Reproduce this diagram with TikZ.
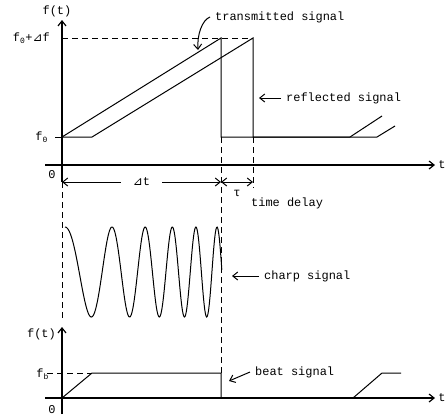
\documentclass[tikz,border=0pt]{standalone}
\usepackage{fontspec}
\setmainfont{Liberation Mono}
\newfontfamily\symfont{DejaVu Sans}
\usetikzlibrary{arrows.meta,positioning,calc}
\newcommand{\dlt}{{\symfont\char"22BF}}

\begin{document}
\begin{tikzpicture}[x=1bp,y=-1bp,
  lbl/.style={inner sep=1pt,font=\fontsize{12}{12}\selectfont},
  note/.style={lbl,anchor=west,inner xsep=5bp},
  guide/.style={dash pattern=on 6bp off 4bp,line width=1bp},
  axis/.style={line width=1.2bp},
  sig/.style={line width=1bp},
  >={Straight Barb[length=5bp,width=8bp]}]
\useasboundingbox (0,0) rectangle (446,417);
% upper graph: transmitted and reflected frequency
\coordinate (ya1) at (62,182); \coordinate (yb1) at (62,20);
\coordinate (xa1) at (45,165); \coordinate (xb1) at (435,165);
\coordinate (top0) at (62,38);  \coordinate (tick0) at (55,137);
\coordinate (tA) at (62,137);  \coordinate (tB) at (221,38);
\coordinate (tC) at (221,137); \coordinate (tD) at (350,137);
\coordinate (tE) at (382,116);
\coordinate (rB) at (92,137);  \coordinate (rC) at (253,38);
\coordinate (rD) at (253,137); \coordinate (rE) at (377,137);
\coordinate (rF) at (395,126);
\coordinate (dtR) at (221,182); \coordinate (tauR) at (253,182);
\coordinate (tauEnd) at (253,188);
\node[lbl] (ft1) at (57,11) {f(t)};
\node[lbl] (t1) at (442,165) {t};
\node[lbl,anchor=east] (fmax) at (51,38) {f\textsubscript{0}+\dlt f};
\node[lbl,anchor=east] (f0) at (49,137) {f\textsubscript{0}};
\node[lbl] (zero1) at (52,175) {0};
\draw[axis,->] (ya1) -- (yb1);
\draw[axis,->] (xa1) -- (xb1);
\draw[sig] (tick0) -- (tA);
\draw[sig] (tA) -- (tB) -- (tC) -- (tD) -- (tE);
\draw[sig] (tA) -- (rB) -- (rC) -- (rD) -- (rE) -- (rF);
\draw[guide] (top0) -- (rC);
\draw[guide] (rD) -- (tauEnd);
\draw[sig,<->] (ya1) -- node[lbl,fill=white,inner xsep=12bp] (dt) {\dlt t} (dtR);
\draw[sig,<->] (dtR) -- (tauR);
\node[lbl] (tau) at (237,193) {τ};
\node[lbl,anchor=west] (delay) at (250,203) {time delay};
\node[note] (tsig) at (210,17) {transmitted signal};
\node[note] (rsig) at (281,98) {reflected signal};
\coordinate (tsigTip) at (198,50); \coordinate (rsigTip) at (259,98);
\draw[sig,->] (tsig.west) .. controls (202,20) and (197,35) .. (tsigTip);
\draw[sig,->] (rsig.west) -- (rsigTip);
% chirp
\draw[sig] plot[domain=0:1.57,samples=240]
  ({65+100*\x},{272-45*cos(180*(3.215*\x+2.213*\x*\x))});
\node[note] (csig) at (259,276) {charp signal};
\coordinate (csigTip) at (232,276);
\draw[sig,->] (csig.west) -- (csigTip);
% lower graph: beat frequency
\coordinate (ya2) at (62,414); \coordinate (yb2) at (62,327);
\coordinate (xa2) at (45,398); \coordinate (xb2) at (435,398);
\coordinate (dashEnd) at (62,322); \coordinate (tickb) at (47,373);
\coordinate (bA) at (62,398);  \coordinate (bB) at (92,373);
\coordinate (bC) at (221,373); \coordinate (bD) at (221,398);
\coordinate (bE) at (353,398); \coordinate (bF) at (382,373);
\coordinate (bG) at (401,373);
\node[lbl,anchor=east] (ft2) at (57,334) {f(t)};
\node[lbl] (t2) at (442,398) {t};
\node[lbl,anchor=east] (fb) at (50,374) {f\textsubscript{b}};
\node[lbl] (zero2) at (52,410) {0};
\draw[axis,->] (ya2) -- (yb2);
\draw[axis,->] (xa2) -- (xb2);
\draw[guide] (ya1) -- (dashEnd);
\draw[guide] (tC) -- (bC);
\draw[guide] (tickb) -- (bB);
\draw[sig] (bA) -- (bB) -- (bC) -- (bD);
\draw[sig] (bE) -- (bF) -- (bG);
\node[note] (bsig) at (250,372) {beat signal};
\coordinate (bsigTip) at (229,381);
\draw[sig,->] (bsig.west) -- (bsigTip);
\end{tikzpicture}
\end{document}
